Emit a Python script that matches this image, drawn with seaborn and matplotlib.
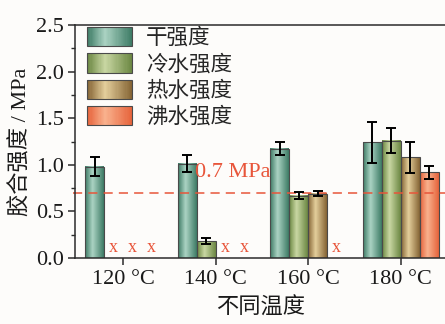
import numpy as np
import pandas as pd
import matplotlib
matplotlib.use("Agg")
import matplotlib.pyplot as plt
import seaborn as sns
from matplotlib.colors import LinearSegmentedColormap
from matplotlib.patches import Rectangle
from matplotlib.legend_handler import HandlerBase
from matplotlib.ticker import MultipleLocator, FormatStrFormatter

# ---- data -------------------------------------------------------------
temps = ["120 °C", "140 °C", "160 °C", "180 °C"]
series = ["干强度", "冷水强度", "热水强度", "沸水强度"]

dry = [0.98, 1.01, 1.17, 1.24]
dry_err = [0.10, 0.09, 0.07, 0.22]
cold = [np.nan, 0.18, 0.67, 1.26]
cold_err = [np.nan, 0.03, 0.035, 0.13]
hot = [np.nan, np.nan, 0.69, 1.08]
hot_err = [np.nan, np.nan, 0.03, 0.17]
boil = [np.nan, np.nan, np.nan, 0.92]
boil_err = [np.nan, np.nan, np.nan, 0.07]

threshold = 0.7
threshold_label = "0.7 MPa"
missing_mark = "x"

values = [dry, cold, hot, boil]
errors = [dry_err, cold_err, hot_err, boil_err]

# ---- styling ----------------------------------------------------------
# (dark edge, highlight) pairs for the cylindrical shading of each series
shades = [("#3c7a64", "#abd3c3"),
          ("#6a8641", "#c9d7a3"),
          ("#846333", "#e4cf9c"),
          ("#e6623a", "#f9b28e")]
cmaps = [LinearSegmentedColormap.from_list(f"g{i}", [(0, d), (0.4, l), (1, d)])
         for i, (d, l) in enumerate(shades)]
red = "#e8553a"
bg = "#fdfcfa"

sns.set_theme(style="ticks")
plt.rcParams["font.family"] = ["Liberation Serif", "Noto Sans CJK SC"]
plt.rcParams["axes.unicode_minus"] = False

rows = []
for s, vals in zip(series, values):
    for t, v in zip(temps, vals):
        if not np.isnan(v):
            rows.append({"temp": t, "series": s, "value": v})
df = pd.DataFrame(rows)

fig = plt.figure(figsize=(4.45, 3.24), dpi=100, facecolor=bg)
ax = fig.add_axes([75 / 445, 66 / 324, 372 / 445, 233 / 324], facecolor=bg)

sns.barplot(data=df, x="temp", y="value", hue="series", order=temps,
            hue_order=series, width=0.82, errorbar=None, legend=False, ax=ax)

bar_containers = list(ax.containers)
grad = np.linspace(0, 1, 256)[np.newaxis, :]
bar_w = bar_containers[0].patches[0].get_width()
for h, cont in enumerate(bar_containers):
    for p in cont.patches:
        x0, w, ht = p.get_x(), p.get_width(), p.get_height()
        if not np.isfinite(ht):
            continue
        idx = int(round(x0 + w / 2))
        p.set_facecolor("none")
        p.set_edgecolor("#4a4a4a")
        p.set_linewidth(0.8)
        p.set_zorder(2)
        ax.imshow(grad, cmap=cmaps[h], extent=(x0, x0 + w, 0, ht),
                  aspect="auto", interpolation="bilinear", zorder=1.5)
        ax.errorbar(x0 + w / 2, ht, yerr=errors[h][idx], fmt="none",
                    ecolor="black", elinewidth=1.4, capsize=3.5,
                    capthick=1.4, zorder=3)

# markers for specimens that failed (no strength measured)
for h, vals in enumerate(values):
    for i, v in enumerate(vals):
        if np.isnan(v):
            ax.text(i + (h - 1.5) * bar_w, 0.02, missing_mark, color=red,
                    fontsize=13, ha="center", va="bottom", zorder=3)

ax.axhline(threshold, xmin=-0.006, color=red, lw=1.1, ls=(0, (6, 4)),
           zorder=2.5, clip_on=False)
ax.text(0.78, 0.87, threshold_label, color=red, fontsize=16,
        ha="left", va="baseline", zorder=3)

ax.set_xlim(-0.52, 3.5)
ax.set_ylim(0, 2.5)
ax.yaxis.set_major_locator(MultipleLocator(0.5))
ax.yaxis.set_minor_locator(MultipleLocator(0.25))
ax.yaxis.set_major_formatter(FormatStrFormatter("%.1f"))

for side in ["left", "bottom", "top"]:
    ax.spines[side].set_visible(True)
    ax.spines[side].set_color("#2b2b2b")
    ax.spines[side].set_linewidth(1.1)
ax.spines["right"].set_visible(False)
ax.tick_params(axis="both", which="major", direction="out", length=5,
               width=1.1, color="#2b2b2b", labelsize=16, labelcolor="#1a1a1a")
ax.tick_params(axis="y", which="minor", direction="out", length=3,
               width=1.0, color="#2b2b2b")
ax.tick_params(axis="x", pad=4)
ax.tick_params(axis="y", pad=3)

ax.set_xlabel("不同温度", fontsize=16, color="#1a1a1a", labelpad=6)
ax.set_ylabel("胶合强度 / MPa", fontsize=16, color="#1a1a1a", labelpad=3)


class GradientHandler(HandlerBase):
    def __init__(self, cmap):
        super().__init__()
        self.cmap = cmap

    def create_artists(self, legend, orig_handle, xdescent, ydescent,
                       width, height, fontsize, trans):
        n = 40
        arts = []
        for k in range(n):
            arts.append(Rectangle((-xdescent + width * k / n, -ydescent),
                                  width / n * 1.1, height,
                                  facecolor=self.cmap((k + 0.5) / n),
                                  edgecolor="none", transform=trans))
        arts.append(Rectangle((-xdescent, -ydescent), width, height,
                              facecolor="none", edgecolor="#4a4a4a",
                              lw=0.8, transform=trans))
        return arts


handles = [Rectangle((0, 0), 1, 1) for _ in series]
ax.legend(handles, series,
          handler_map={hd: GradientHandler(c) for hd, c in zip(handles, cmaps)},
          loc="upper left", bbox_to_anchor=(12 / 372, 1 - 2 / 233),
          borderaxespad=0, borderpad=0, frameon=False,
          prop={"family": ["Noto Sans CJK SC"], "size": 15.5},
          handlelength=2.1, handleheight=1.0, labelspacing=0.2,
          handletextpad=0.65)

fig.savefig("out.png", dpi=100, facecolor=bg)
